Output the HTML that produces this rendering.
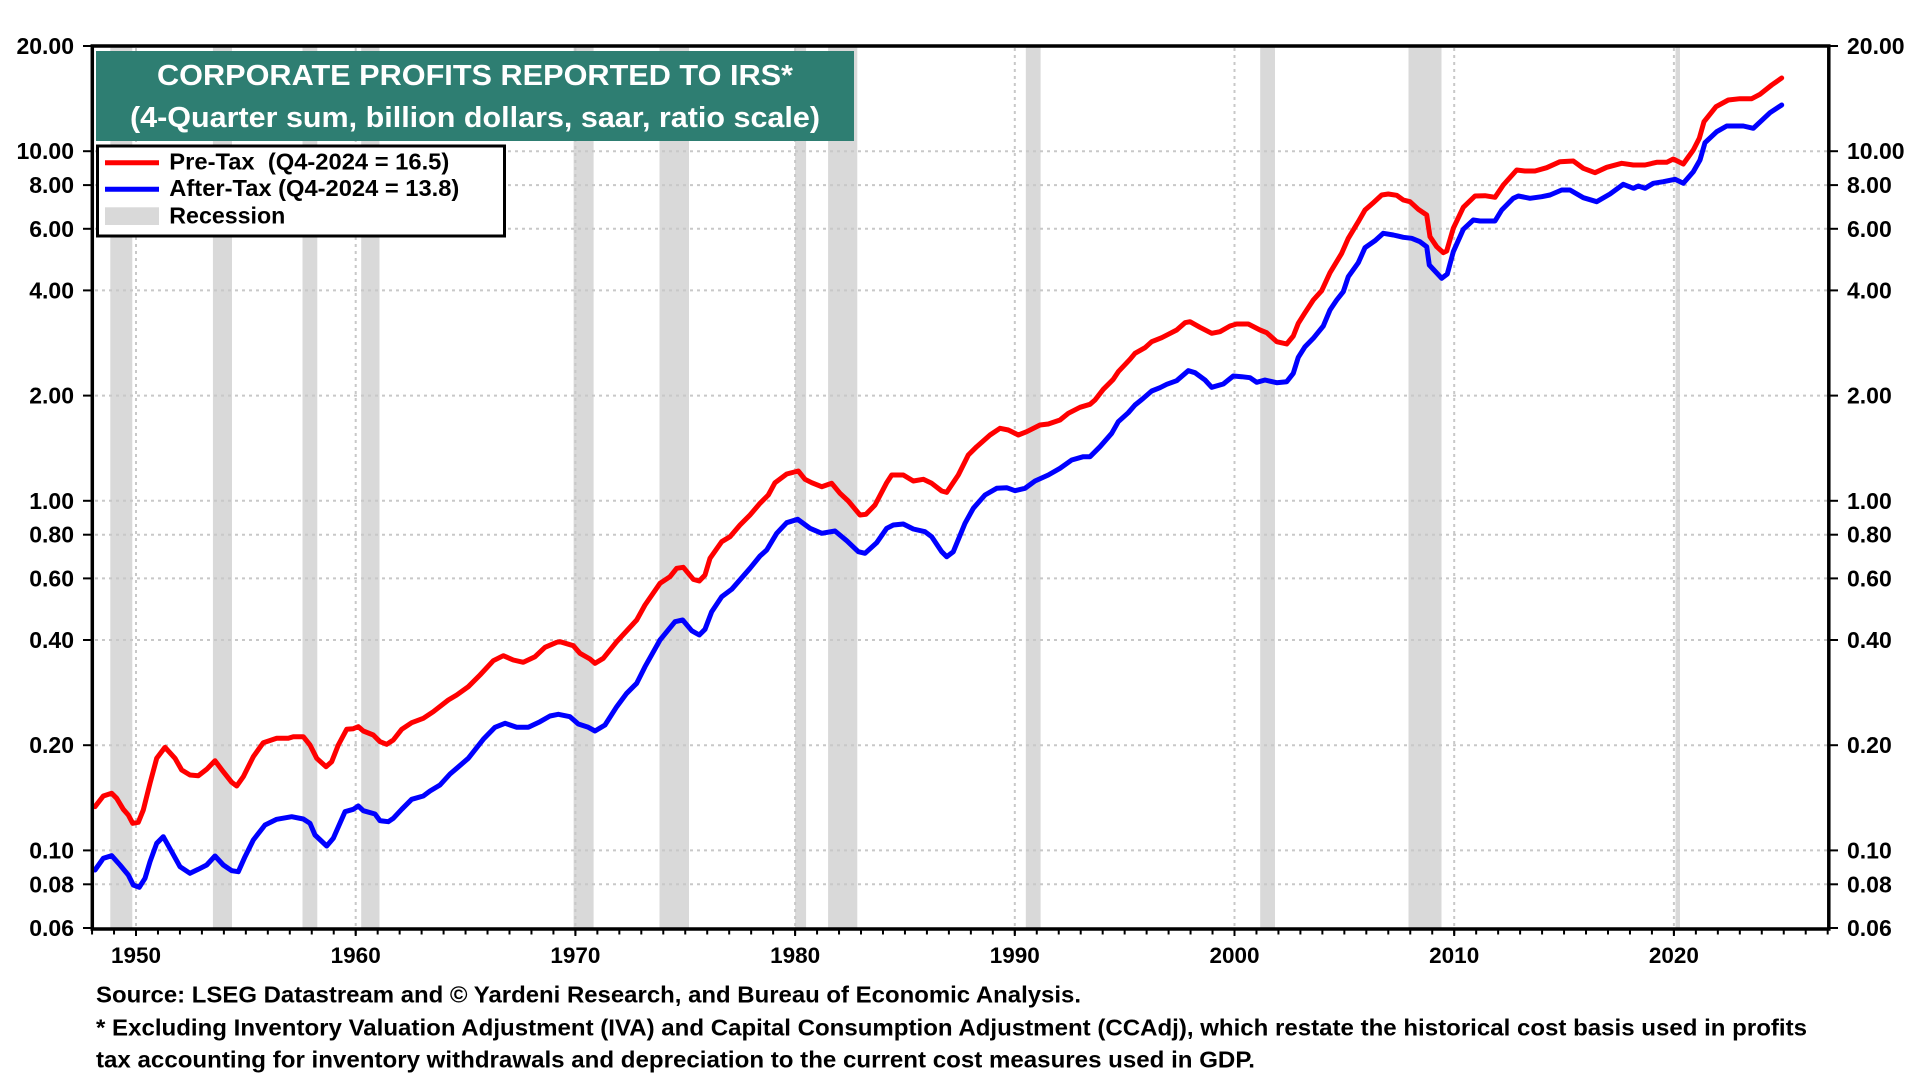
<!DOCTYPE html>
<html>
<head>
<meta charset="utf-8">
<style>
html,body{margin:0;padding:0;background:#fff;}
svg{display:block;}
text{font-family:"Liberation Sans",Arial,sans-serif;font-weight:bold;}
</style>
</head>
<body>
<svg width="1920" height="1080" viewBox="0 0 1920 1080" xmlns="http://www.w3.org/2000/svg">
<rect x="0" y="0" width="1920" height="1080" fill="#fff"/>

<!-- Recession bars -->
<g fill="#d9d9d9">
<rect x="110.3" y="46" width="22" height="882"/>
<rect x="212.9" y="46" width="19.1" height="882"/>
<rect x="302.5" y="46" width="14.8" height="882"/>
<rect x="361.2" y="46" width="18.3" height="882"/>
<rect x="573.6" y="46" width="20" height="882"/>
<rect x="659.5" y="46" width="29.5" height="882"/>
<rect x="795.1" y="46" width="11" height="882"/>
<rect x="828.1" y="46" width="29.2" height="882"/>
<rect x="1025.8" y="46" width="14.8" height="882"/>
<rect x="1260.2" y="46" width="14.8" height="882"/>
<rect x="1408.5" y="46" width="33" height="882"/>
<rect x="1675.5" y="46" width="4.5" height="882"/>
</g>

<!-- Horizontal gridlines -->
<g stroke="#c8c8c8" stroke-width="2" stroke-dasharray="3 4">
<line x1="95" y1="151.2" x2="1827" y2="151.2"/>
<line x1="95" y1="185.1" x2="1827" y2="185.1"/>
<line x1="95" y1="228.8" x2="1827" y2="228.8"/>
<line x1="95" y1="290.4" x2="1827" y2="290.4"/>
<line x1="95" y1="395.6" x2="1827" y2="395.6"/>
<line x1="95" y1="500.8" x2="1827" y2="500.8"/>
<line x1="95" y1="534.7" x2="1827" y2="534.7"/>
<line x1="95" y1="578.4" x2="1827" y2="578.4"/>
<line x1="95" y1="640" x2="1827" y2="640"/>
<line x1="95" y1="745.2" x2="1827" y2="745.2"/>
<line x1="95" y1="850.4" x2="1827" y2="850.4"/>
<line x1="95" y1="884.3" x2="1827" y2="884.3"/>
</g>
<!-- Vertical gridlines -->
<g stroke="#c8c8c8" stroke-width="2" stroke-dasharray="3 4">
<line x1="136" y1="48" x2="136" y2="927"/>
<line x1="355.7" y1="48" x2="355.7" y2="927"/>
<line x1="575.4" y1="48" x2="575.4" y2="927"/>
<line x1="795.1" y1="48" x2="795.1" y2="927"/>
<line x1="1014.8" y1="48" x2="1014.8" y2="927"/>
<line x1="1234.5" y1="48" x2="1234.5" y2="927"/>
<line x1="1454.2" y1="48" x2="1454.2" y2="927"/>
<line x1="1673.9" y1="48" x2="1673.9" y2="927"/>
</g>

<!-- Series -->
<polyline fill="none" stroke="#ff0000" stroke-width="5" stroke-linejoin="round" stroke-linecap="round" points="95,806.7 103.3,796 111.7,793.3 116.7,798.3 123.3,809.3 128.3,815 132.7,823.3 138.3,822.3 143.3,810 150,783.3 156.7,758.3 165,747.3 175,758.3 181.7,770 190,775 198.3,775.7 206.7,769.3 215,760.7 223.3,771.7 231.7,782.3 236.7,786 243.3,776.7 253.3,756.7 263.3,742.7 276.7,738.3 288.3,738.3 293.3,736.7 303.3,736.7 310,745 316.7,758.3 326,766.7 331.7,761.7 338.3,745 346.7,729.3 353.3,728.7 358.3,726.7 363.3,731 373.3,735 380,741.7 386.7,744.3 393.3,740 401.7,729.3 411.7,722.7 423.3,718.3 433.3,711.7 448.3,700 456.7,695 468.3,686.7 480,675 493.3,660.7 503.3,655.7 513.3,660 523.3,662.3 535,656.7 545,647.3 556.7,642.3 560,641.7 573.3,645.7 580,653.3 590,659 595,663.3 603.3,658.3 616.7,641.7 636.7,620 645,605 660,583.3 670,576.7 676.7,568.3 683.3,567.3 693.3,579.3 699.3,581 705,575 710,558.3 721.7,541.7 730,536.7 740,525 750,515 760,503.3 768.3,495 775,482.7 786.7,474 798.3,471 805,479.3 811.7,482.7 821.7,486.7 831.7,483.3 840,493.3 848.3,501 860,515 866,514.3 875,505 886.7,482.7 891.7,475 903.3,475 913.3,481 923.3,479.3 931.7,483.3 941.7,491 946.7,492.3 958.3,475 968.3,455 976.7,446.7 990,435 1000,428.3 1008.3,430 1018.3,435 1026.7,431.7 1040,425 1048.3,424 1060,420 1068.3,413.3 1080,407.3 1090,404.3 1095,400 1103.3,389.3 1113.3,379.3 1118.3,371.7 1130,359.3 1135,353.3 1145,347.7 1151.7,341.7 1161.7,337.7 1168.3,334.3 1176.7,330 1185,322.7 1190,321.7 1200,327.3 1211.7,333.3 1220,331.7 1230,326 1236.7,324 1248.3,324 1260,330 1266.7,332.7 1276.7,341.7 1286.7,344 1293.3,336 1298.3,323.3 1305,312.7 1313.3,300 1321.7,290.7 1330,272.7 1341.7,253.3 1348.3,238.3 1358.3,221.7 1365,210 1373.3,202.7 1381.7,195 1388.3,194 1396.7,195.3 1403.3,200 1410,201.7 1418.3,209.3 1426.7,215 1430,236.7 1436.7,246.7 1443.3,252.7 1446.7,251 1453.3,228.3 1463.3,207.3 1475,196 1485,195.7 1495,197.3 1503.3,185 1516.7,170 1525,171 1535,171 1546.7,167.7 1560,161.7 1573.3,161 1583.3,168.3 1595,172.7 1606.7,167.3 1621.7,163.3 1633.3,165 1645,165 1656.7,162.3 1666.7,162.3 1673.3,159 1683.3,164 1693.3,150 1699.3,138.3 1704,121.7 1716,106.7 1728.3,100 1740,98.7 1751.7,98.7 1760,94.3 1771.7,85 1781.7,78"/>
<polyline fill="none" stroke="#0000ff" stroke-width="5" stroke-linejoin="round" stroke-linecap="round" points="95,870 103.3,858.3 111.7,855.7 120,865 128.3,875 133.3,885 139.3,887.3 145,878.3 150,861.7 156.7,843.3 163.3,836.7 171.7,851.7 180,866.7 190,873.3 198.3,869.3 206.7,865 215,856 223.3,865 231.7,870.7 238.3,871.7 245,856.7 253.3,840 265,825 276.7,819.3 291.7,816.7 303.3,819 310,823.3 315,835 326.7,846 333.3,838.3 345,811.7 353.3,809.3 358.3,806 363.3,810.7 375,814 380,820.7 388.3,821.7 393.3,818.3 401.7,809.3 411.7,799.3 423.3,796 430,791 440,785 450,774 456.7,768.3 468.3,758.3 483.3,739.3 495,727.3 505,723.3 516.7,727.3 528.3,727.3 540,721.7 550,716 558.3,714.3 570,716.7 578.3,724 588.3,727.3 595,731 605,725 616.7,706.7 626.7,693.3 636.7,683.3 645,666.7 660,640 675,621.7 682.7,620 691.7,630.7 699.3,635 705,629.3 711.7,611.7 721.7,596.7 731.7,589.3 750,568.3 760,556 766.7,550 776.7,533.3 786.7,522.7 797.7,519.3 810,528.3 821.7,533.3 835,531 846.7,540.7 858.3,551.7 865,553.3 876.7,542.7 886.7,528.3 893.3,525 903.3,524 913.3,529 925,531.7 931.7,536.7 941.7,551.7 946.7,556.7 953.3,551.7 965,523.3 973.3,508.3 985,495 996.7,488.3 1006.7,487.7 1015,490.7 1025,488.3 1035,481 1048.3,475 1060,468.3 1071.7,460 1083.3,456.7 1090,456.7 1100,446.7 1111.7,433.3 1118.3,421.7 1128.3,412.7 1135,405 1143.3,398.3 1151.7,391 1160,387.7 1166.7,384.3 1176.7,380.7 1188.3,370.7 1195,372.7 1205,380 1211.7,387.3 1223.3,384 1233.3,376 1241.7,376.7 1250,377.7 1256.7,382.3 1265,380 1276.7,382.7 1286.7,381.7 1293.3,373.3 1298.3,357.3 1305,346.7 1313.3,338.3 1323.3,326 1330,310 1336.7,300 1343.3,291.7 1348.3,276.7 1358.3,262.7 1365,247.7 1375,240.7 1383.3,233.3 1393.3,235 1403.3,237.3 1411.7,238.3 1420,241.7 1426.7,246.7 1429.3,265 1441.7,278.3 1447.3,274 1453.3,251.7 1463.3,229.3 1473.3,220 1480,221 1495,221 1501.7,210 1513.3,198.3 1518.3,196 1530,198.3 1541.7,196.7 1550,195 1561.7,190 1570,190 1583.3,197.7 1596.7,201.7 1610,194 1623.3,184.3 1633.3,188.3 1638.3,186 1645,188.3 1653.3,183.3 1663.3,181.7 1675,179.3 1683.3,183.3 1693.3,171.7 1700,160 1705,142.7 1716.7,131.7 1726.7,126 1743.3,126 1753.3,128.3 1770,112.7 1781.7,105"/>

<!-- Title box -->
<rect x="96" y="51" width="758" height="90" fill="#2e7e72"/>
<text x="475" y="85" fill="#fff" font-size="29" text-anchor="middle" textLength="636" lengthAdjust="spacingAndGlyphs">CORPORATE PROFITS REPORTED TO IRS*</text>
<text x="475" y="127" fill="#fff" font-size="29" text-anchor="middle" textLength="690" lengthAdjust="spacingAndGlyphs">(4-Quarter sum, billion dollars, saar, ratio scale)</text>

<!-- Legend -->
<rect x="97.5" y="146" width="407" height="90" fill="#fff" stroke="#000" stroke-width="3"/>
<line x1="105" y1="162.7" x2="159" y2="162.7" stroke="#ff0000" stroke-width="5"/>
<text x="169.3" y="169.5" font-size="23" textLength="280" lengthAdjust="spacingAndGlyphs" xml:space="preserve">Pre-Tax  (Q4-2024 = 16.5)</text>
<line x1="105" y1="189.3" x2="159" y2="189.3" stroke="#0000ff" stroke-width="5"/>
<text x="169.3" y="196" font-size="23" textLength="290" lengthAdjust="spacingAndGlyphs">After-Tax (Q4-2024 = 13.8)</text>
<rect x="105" y="207.3" width="54" height="17.7" fill="#d9d9d9"/>
<text x="169.3" y="223.3" font-size="23" textLength="116" lengthAdjust="spacingAndGlyphs">Recession</text>

<!-- Frame -->
<rect x="92.3" y="46" width="1736.5" height="883" fill="none" stroke="#000" stroke-width="3.5"/>

<!-- Y ticks -->
<g stroke="#000" stroke-width="2">
<line x1="83" y1="46" x2="92" y2="46"/><line x1="1829" y1="46" x2="1838" y2="46"/>
<line x1="83" y1="151.2" x2="92" y2="151.2"/><line x1="1829" y1="151.2" x2="1838" y2="151.2"/>
<line x1="83" y1="185.1" x2="92" y2="185.1"/><line x1="1829" y1="185.1" x2="1838" y2="185.1"/>
<line x1="83" y1="228.8" x2="92" y2="228.8"/><line x1="1829" y1="228.8" x2="1838" y2="228.8"/>
<line x1="83" y1="290.4" x2="92" y2="290.4"/><line x1="1829" y1="290.4" x2="1838" y2="290.4"/>
<line x1="83" y1="395.6" x2="92" y2="395.6"/><line x1="1829" y1="395.6" x2="1838" y2="395.6"/>
<line x1="83" y1="500.8" x2="92" y2="500.8"/><line x1="1829" y1="500.8" x2="1838" y2="500.8"/>
<line x1="83" y1="534.7" x2="92" y2="534.7"/><line x1="1829" y1="534.7" x2="1838" y2="534.7"/>
<line x1="83" y1="578.4" x2="92" y2="578.4"/><line x1="1829" y1="578.4" x2="1838" y2="578.4"/>
<line x1="83" y1="640" x2="92" y2="640"/><line x1="1829" y1="640" x2="1838" y2="640"/>
<line x1="83" y1="745.2" x2="92" y2="745.2"/><line x1="1829" y1="745.2" x2="1838" y2="745.2"/>
<line x1="83" y1="850.4" x2="92" y2="850.4"/><line x1="1829" y1="850.4" x2="1838" y2="850.4"/>
<line x1="83" y1="884.3" x2="92" y2="884.3"/><line x1="1829" y1="884.3" x2="1838" y2="884.3"/>
<line x1="83" y1="928" x2="92" y2="928"/><line x1="1829" y1="928" x2="1838" y2="928"/>
</g>

<!-- Y labels left -->
<g font-size="23" text-anchor="end" fill="#000">
<text x="74" y="54">20.00</text>
<text x="74" y="159.2">10.00</text>
<text x="74" y="193.1">8.00</text>
<text x="74" y="236.8">6.00</text>
<text x="74" y="298.4">4.00</text>
<text x="74" y="403.6">2.00</text>
<text x="74" y="508.8">1.00</text>
<text x="74" y="542.7">0.80</text>
<text x="74" y="586.4">0.60</text>
<text x="74" y="648">0.40</text>
<text x="74" y="753.2">0.20</text>
<text x="74" y="858.4">0.10</text>
<text x="74" y="892.3">0.08</text>
<text x="74" y="936">0.06</text>
</g>
<!-- Y labels right -->
<g font-size="23" text-anchor="start" fill="#000">
<text x="1847" y="54">20.00</text>
<text x="1847" y="159.2">10.00</text>
<text x="1847" y="193.1">8.00</text>
<text x="1847" y="236.8">6.00</text>
<text x="1847" y="298.4">4.00</text>
<text x="1847" y="403.6">2.00</text>
<text x="1847" y="508.8">1.00</text>
<text x="1847" y="542.7">0.80</text>
<text x="1847" y="586.4">0.60</text>
<text x="1847" y="648">0.40</text>
<text x="1847" y="753.2">0.20</text>
<text x="1847" y="858.4">0.10</text>
<text x="1847" y="892.3">0.08</text>
<text x="1847" y="936">0.06</text>
</g>

<!-- X ticks: minor yearly -->
<line x1="91.06" y1="932.5" x2="1830" y2="932.5" stroke="#000" stroke-width="4" stroke-dasharray="2 19.97"/>
<g stroke="#000" stroke-width="2">
<line x1="136" y1="929" x2="136" y2="936"/>
<line x1="355.7" y1="929" x2="355.7" y2="936"/>
<line x1="575.4" y1="929" x2="575.4" y2="936"/>
<line x1="795.1" y1="929" x2="795.1" y2="936"/>
<line x1="1014.8" y1="929" x2="1014.8" y2="936"/>
<line x1="1234.5" y1="929" x2="1234.5" y2="936"/>
<line x1="1454.2" y1="929" x2="1454.2" y2="936"/>
<line x1="1673.9" y1="929" x2="1673.9" y2="936"/>
</g>
<!-- X labels -->
<g font-size="22.5" text-anchor="middle" fill="#000">
<text x="136" y="963">1950</text>
<text x="355.7" y="963">1960</text>
<text x="575.4" y="963">1970</text>
<text x="795.1" y="963">1980</text>
<text x="1014.8" y="963">1990</text>
<text x="1234.5" y="963">2000</text>
<text x="1454.2" y="963">2010</text>
<text x="1673.9" y="963">2020</text>
</g>

<!-- Footnotes -->
<g font-size="23" fill="#000">
<text x="96" y="1002.5" textLength="985" lengthAdjust="spacingAndGlyphs">Source: LSEG Datastream and © Yardeni Research, and Bureau of Economic Analysis.</text>
<text x="96" y="1035.5" textLength="1711" lengthAdjust="spacingAndGlyphs">* Excluding Inventory Valuation Adjustment (IVA) and Capital Consumption Adjustment (CCAdj), which restate the historical cost basis used in profits</text>
<text x="96" y="1067.5" textLength="1159" lengthAdjust="spacingAndGlyphs">tax accounting for inventory withdrawals and depreciation to the current cost measures used in GDP.</text>
</g>
</svg>
</body>
</html>
